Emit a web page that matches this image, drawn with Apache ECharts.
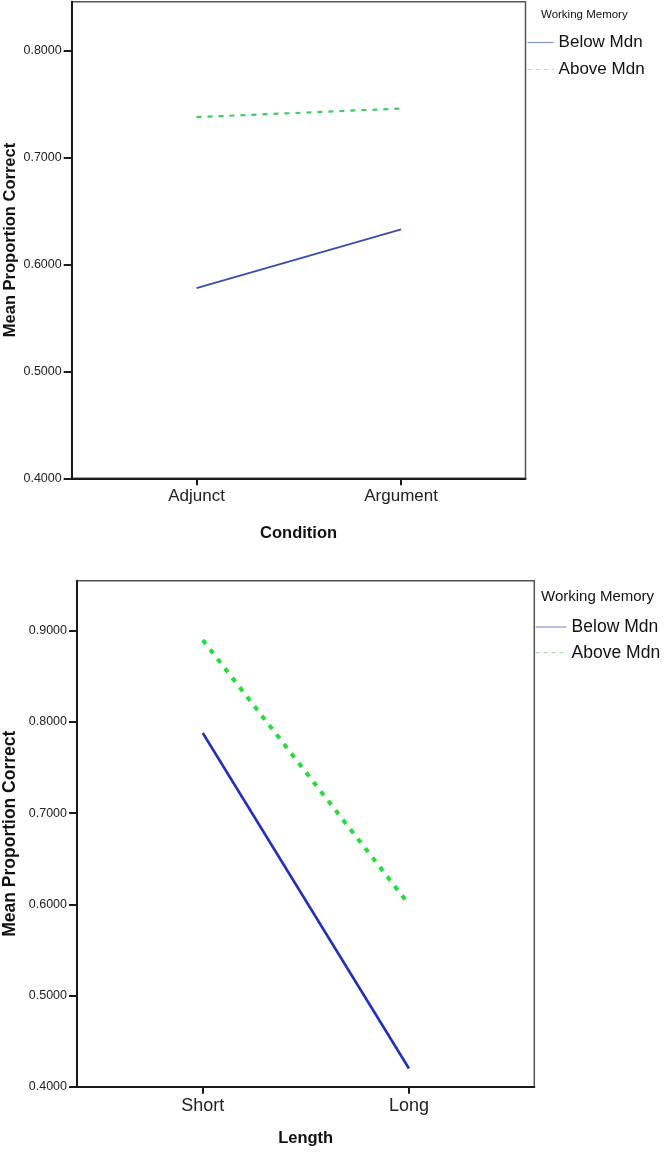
<!DOCTYPE html>
<html>
<head>
<meta charset="utf-8">
<script src="https://cdn.jsdelivr.net/npm/echarts@6/dist/echarts.min.js"></script>
<style>
html,body{margin:0;padding:0;background:#fff;}
#chart{width:664px;height:1153px;}
</style>
</head>
<body>
<div id="chart"></div>
<script>
// ---- data ----
const conditionCats = ['Adjunct', 'Argument'];
const condBelow = [0.578, 0.633];
const condAbove = [0.738, 0.746];
const lengthCats = ['Short', 'Long'];
const lenBelow = [0.788, 0.420];
const lenAbove = [0.890, 0.600];
const yTicksTop = [0.4, 0.5, 0.6, 0.7, 0.8];
const yTicksBottom = [0.4, 0.5, 0.6, 0.7, 0.8, 0.9];
const seriesNames = ['Below Mdn', 'Above Mdn'];
const legendTitle = 'Working Memory';
const yTitle = 'Mean Proportion Correct';
const xTitleTop = 'Condition';
const xTitleBottom = 'Length';

const FONT = '"Liberation Sans", Arial, sans-serif';
const toPts = arr => arr.map((v, i) => [i, v]);

function xAxisCfg(gridIndex, cats, name, fontSize, nameGap) {
  return {
    type: 'value', gridIndex: gridIndex, min: -0.61, max: 1.608,
    name: name, nameLocation: 'middle', nameGap: nameGap, nameMoveOverlap: false,
    nameTextStyle: {fontFamily: FONT, fontWeight: 'bold', fontSize: 16.5, color: '#111'},
    axisLine: {show: true, onZero: false, lineStyle: {color: '#1a1a1a', width: 2}},
    axisTick: {show: true, customValues: [0, 1], length: 7, lineStyle: {color: '#1a1a1a', width: 2}},
    axisLabel: {show: true, customValues: [0, 1], margin: 10, fontFamily: FONT, fontSize: fontSize, color: '#222',
      formatter: v => cats[Math.round(v)]},
    splitLine: {show: false}
  };
}
function yAxisCfg(gridIndex, max, ticks, nameGap, nameSize) {
  return {
    type: 'value', gridIndex: gridIndex, min: 0.4, max: max, interval: 0.1,
    name: yTitle, nameLocation: 'middle', nameGap: nameGap, nameRotate: 90, nameMoveOverlap: false,
    nameTextStyle: {fontFamily: FONT, fontWeight: 'bold', fontSize: nameSize, color: '#111'},
    axisLine: {show: true, onZero: false, lineStyle: {color: '#1a1a1a', width: 2}},
    axisTick: {show: true, customValues: ticks, length: 8, lineStyle: {color: '#1a1a1a', width: 2}},
    axisLabel: {show: true, customValues: ticks, margin: 10, fontFamily: FONT, fontSize: 12.5, color: '#222',
      formatter: v => v.toFixed(4)},
    splitLine: {show: false}
  };
}

const chart = echarts.init(document.getElementById('chart'), null, {renderer: 'canvas'});
const option = {
  animation: false,
  backgroundColor: '#fff',
  title: [
    {text: legendTitle, left: 541, top: 9, padding: 0,
     textStyle: {fontFamily: FONT, fontSize: 11.5, fontWeight: 'normal', color: '#111'}},
    {text: legendTitle, left: 541, top: 589, padding: 0,
     textStyle: {fontFamily: FONT, fontSize: 15, fontWeight: 'normal', color: '#111'}}
  ],
  legend: [
    {orient: 'vertical', left: 527, top: 34, padding: 0, itemWidth: 26, itemHeight: 14, itemGap: 10,
     textStyle: {fontFamily: FONT, fontSize: 17, color: '#111'},
     data: [
       {name: seriesNames[0], itemStyle: {opacity: 0}, lineStyle: {color: '#8494c0', width: 1.2, type: 'solid'}},
       {name: seriesNames[1], itemStyle: {opacity: 0}, lineStyle: {color: '#a6e0bc', width: 1.2, type: [4, 4]}}
     ]},
    {orient: 'vertical', left: 535, top: 618, padding: 0, itemWidth: 31, itemHeight: 14, itemGap: 7.7,
     textStyle: {fontFamily: FONT, fontSize: 17.5, color: '#111'},
     data: [
       {name: seriesNames[0], itemStyle: {opacity: 0}, lineStyle: {color: '#8899c8', width: 1.2, type: 'solid'}},
       {name: seriesNames[1], itemStyle: {opacity: 0}, lineStyle: {color: '#a6e0a8', width: 1.2, type: [4, 4]}}
     ]}
  ],
  grid: [
    {left: 71.7, top: 1.7, width: 453.8, height: 476.6, show: true, borderColor: '#555', borderWidth: 1.5,
     backgroundColor: '#fff', containLabel: false, outerBoundsMode: 'none'},
    {left: 77, top: 580.7, width: 457.3, height: 506, show: true, borderColor: '#555', borderWidth: 1.5,
     backgroundColor: '#fff', containLabel: false, outerBoundsMode: 'none'}
  ],
  xAxis: [
    xAxisCfg(0, conditionCats, xTitleTop, 17, 47),
    xAxisCfg(1, lengthCats, xTitleBottom, 18, 43)
  ],
  yAxis: [
    yAxisCfg(0, 0.846, yTicksTop, 53, 16.5),
    yAxisCfg(1, 0.955, yTicksBottom, 58, 17.5)
  ],
  series: [
    {name: seriesNames[0], type: 'line', xAxisIndex: 0, yAxisIndex: 0, data: toPts(condBelow),
     symbol: 'none', lineStyle: {color: '#3a4ca8', width: 1.7, type: 'solid'}, itemStyle: {color: '#3a4ca8'}},
    {name: seriesNames[1], type: 'line', xAxisIndex: 0, yAxisIndex: 0, data: toPts(condAbove),
     symbol: 'none', lineStyle: {color: '#3ccc5e', width: 2.2, type: [5, 6]}, itemStyle: {color: '#3ccc5e'}},
    {name: seriesNames[0], type: 'line', xAxisIndex: 1, yAxisIndex: 1, data: toPts(lenBelow),
     symbol: 'none', lineStyle: {color: '#2030bb', width: 2.6, type: 'solid'}, itemStyle: {color: '#2030bb'}},
    {name: seriesNames[1], type: 'line', xAxisIndex: 1, yAxisIndex: 1, data: toPts(lenAbove),
     symbol: 'none', lineStyle: {color: '#22dd3a', width: 4, type: [5, 7]}, itemStyle: {color: '#22dd3a'}}
  ]
};
chart.setOption(option);
</script>
</body>
</html>
